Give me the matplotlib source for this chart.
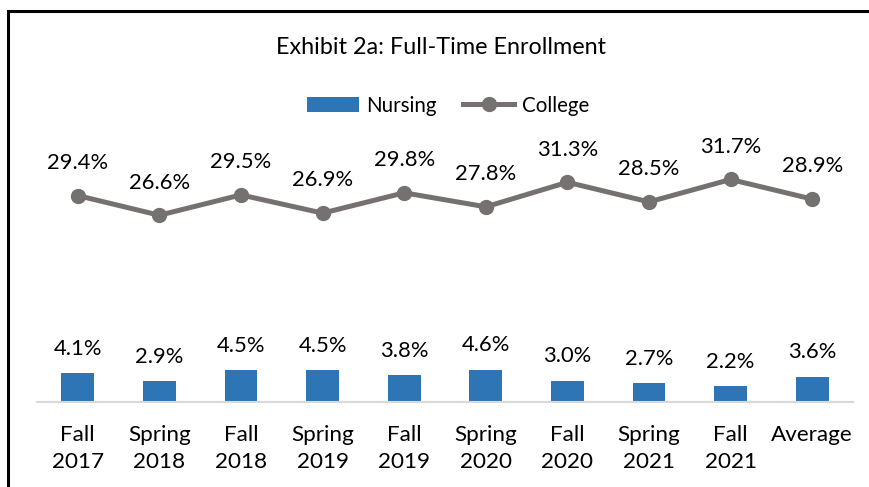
import matplotlib.pyplot as plt
from matplotlib.patches import Rectangle

# Chart data
categories = ['Fall\n2017', 'Spring\n2018', 'Fall\n2018', 'Spring\n2019', 'Fall\n2019',
              'Spring\n2020', 'Fall\n2020', 'Spring\n2021', 'Fall\n2021', 'Average']
nursing = [4.1, 2.9, 4.5, 4.5, 3.8, 4.6, 3.0, 2.7, 2.2, 3.6]
college = [29.4, 26.6, 29.5, 26.9, 29.8, 27.8, 31.3, 28.5, 31.7, 28.9]

BLUE = '#2E75B6'
GRAY = '#767171'

plt.rcParams['font.family'] = ['Lato', 'DejaVu Sans']

fig = plt.figure(figsize=(8.7, 4.87), dpi=100)
ax = fig.add_axes([0.0425, 0.175, 0.938, 0.576])

x = list(range(len(categories)))
bars = ax.bar(x, nursing, width=0.4, color=BLUE, label='Nursing', zorder=2)
line, = ax.plot(x, college, color=GRAY, lw=3.6, marker='o', markersize=10,
                label='College', zorder=3)

for xi, v in zip(x, nursing):
    ax.annotate(f'{v:.1f}%', (xi, v), xytext=(0, 17.5), textcoords='offset points',
                ha='center', va='center', fontsize=15.8)
for xi, v in zip(x, college):
    ax.annotate(f'{v:.1f}%', (xi, v), xytext=(0, 23.5), textcoords='offset points',
                ha='center', va='center', fontsize=15.8)

ax.set_xlim(-0.5, len(categories) - 0.5)
ax.set_ylim(0, 40)
ax.set_xticks(x)
ax.set_xticklabels(categories, fontsize=16.2, linespacing=1.4)
ax.tick_params(axis='x', length=0, pad=17)
ax.set_yticks([])
for side in ['top', 'right', 'left']:
    ax.spines[side].set_visible(False)
ax.spines['bottom'].set_color('#D9D9D9')
ax.spines['bottom'].set_linewidth(1.5)

fig.text(0.507, 0.902, 'Exhibit 2a: Full-Time Enrollment', ha='center', va='center',
         fontsize=16.8)
fig.legend(handles=[bars, line], loc='center', bbox_to_anchor=(0.515, 0.783), ncol=2,
           frameon=False, fontsize=14.8, handlelength=2.5, handletextpad=0.35,
           columnspacing=1.3)

# border around the chart
fig.add_artist(Rectangle((8.5 / 870, -0.1), 1.2, 1 - 10.5 / 487 + 0.1,
                         transform=fig.transFigure, fill=False, edgecolor='black',
                         lw=2.2, clip_on=False))

fig.savefig('out.png', dpi=100)
